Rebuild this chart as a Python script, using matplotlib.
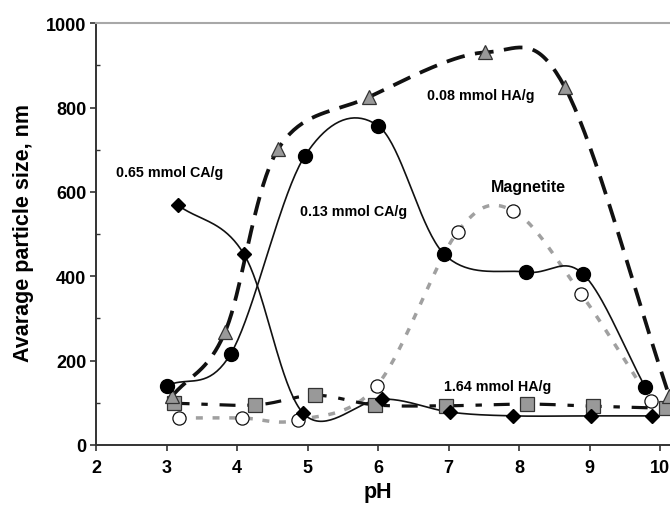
import numpy as np
import matplotlib
matplotlib.use("Agg")
import matplotlib.pyplot as plt
from matplotlib.ticker import MultipleLocator

# values (pH, average particle size in nm)
ph_ca013 = [3.0, 3.91, 4.96, 6.0, 6.94, 8.10, 8.91, 9.79]
size_ca013 = [140, 216, 685, 757, 452, 410, 405, 137]

ph_ha008 = [3.08, 3.83, 4.58, 5.87, 7.52, 8.65, 10.13]
size_ha008 = [116, 268, 701, 825, 931, 848, 116]

ph_ha164 = [3.10, 4.26, 5.11, 5.96, 6.97, 8.11, 9.05, 10.08]
size_ha164 = [99, 95, 118, 95, 93, 97, 92, 87]

ph_ca065 = [3.16, 4.10, 4.94, 6.06, 7.02, 7.92, 9.02, 9.89]
size_ca065 = [569, 452, 75, 109, 78, 69, 69, 69]

ph_mag = [3.18, 4.07, 4.86, 5.98, 7.13, 7.92, 8.88, 9.87]
size_mag = [64, 64, 59, 140, 506, 555, 358, 104]

x_ticks = [2, 3, 4, 5, 6, 7, 8, 9, 10]


def smooth(x, y, n=40):
    # catmull-rom through the points, like the smoothed lines in the original
    p = np.column_stack([x, y]).astype(float)
    p = np.vstack([2 * p[0] - p[1], p, 2 * p[-1] - p[-2]])
    t = np.linspace(0, 1, n)[:, None]
    out = []
    for i in range(1, len(p) - 2):
        p0, p1, p2, p3 = p[i - 1], p[i], p[i + 1], p[i + 2]
        seg = 0.5 * (2 * p1 + (-p0 + p2) * t
                     + (2 * p0 - 5 * p1 + 4 * p2 - p3) * t ** 2
                     + (-p0 + 3 * p1 - 3 * p2 + p3) * t ** 3)
        out.append(seg if i == 1 else seg[1:])
    out = np.vstack(out)
    return out[:, 0], out[:, 1]


plt.rcParams["font.family"] = ["Liberation Sans", "DejaVu Sans"]
plt.rcParams["font.weight"] = "bold"

fig = plt.figure(figsize=(6.7, 5.06), dpi=100)
ax = fig.add_axes([0.1433, 0.1186, 1 - 0.1433, 0.952 - 0.1186])

dark = "#111111"
gray = "#999999"

# lines
sx, sy = smooth(ph_mag, size_mag)
ax.plot(sx, sy, color="#a0a0a0", lw=2.5, dashes=(2.0, 2.8), zorder=2)
sx, sy = smooth(ph_ha164, size_ha164)
ax.plot(sx, sy, color=dark, lw=2.3, dashes=(5.0, 3.7, 2.0, 3.7), zorder=2)
sx, sy = smooth(ph_ha008, size_ha008)
ax.plot(sx, sy, color=dark, lw=2.7, dashes=(5.0, 2.8), zorder=2)
sx, sy = smooth(ph_ca013, size_ca013)
ax.plot(sx, sy, color=dark, lw=1.2, zorder=2)
sx, sy = smooth(ph_ca065, size_ca065)
ax.plot(sx, sy, color=dark, lw=1.2, zorder=2)

# markers
ax.plot(ph_mag, size_mag, ls="none", marker="o", ms=9.5, mfc="white",
        mec=dark, mew=0.9, zorder=3)
ax.plot(ph_ha164, size_ha164, ls="none", marker="s", ms=9.5, mfc=gray,
        mec="#333333", mew=0.9, zorder=3)
ax.plot(ph_ha008, size_ha008, ls="none", marker="^", ms=10.5, mfc=gray,
        mec="#333333", mew=0.9, zorder=3)
ax.plot(ph_ca013, size_ca013, ls="none", marker="o", ms=10, mfc="black",
        mec="black", zorder=4)
ax.plot(ph_ca065, size_ca065, ls="none", marker="D", ms=7.5, mfc="black",
        mec="black", zorder=4)

# labels on the curves
ax.text(3.04, 647, "0.65 mmol CA/g", fontsize=10.3, ha="center", va="center")
ax.text(5.65, 555, "0.13 mmol CA/g", fontsize=10.3, ha="center", va="center")
ax.text(7.46, 829, "0.08 mmol HA/g", fontsize=10.3, ha="center", va="center")
ax.text(8.13, 614, "Magnetite", fontsize=11.5, ha="center", va="center")
ax.text(7.69, 140, "1.64 mmol HA/g", fontsize=10.3, ha="center", va="center")

ax.set_xlim(2, 10.14)
ax.set_ylim(0, 1000)
ax.set_xticks(x_ticks)
ax.yaxis.set_major_locator(MultipleLocator(200))
ax.yaxis.set_minor_locator(MultipleLocator(100))
ax.tick_params(axis="both", which="major", direction="out", length=4,
               width=1.2, labelsize=13, color="#333333")
ax.tick_params(axis="x", which="major", pad=6)
ax.tick_params(axis="y", which="major", pad=3)
ax.tick_params(axis="y", which="minor", direction="in", length=3,
               width=1.0, color="#333333")

ax.spines["right"].set_visible(False)
ax.spines["top"].set_color("#a8a8a8")
ax.spines["top"].set_linewidth(1.5)
for s in ["left", "bottom"]:
    ax.spines[s].set_color("#333333")
    ax.spines[s].set_linewidth(1.4)

ax.set_xlabel("pH", fontsize=15.5, fontweight="bold")
ax.set_ylabel("Avarage particle size, nm", fontsize=15.5, fontweight="bold")
ax.xaxis.set_label_coords(0.491, -0.085)
ax.yaxis.set_label_coords(-0.108, 0.505)

fig.savefig("out.png", dpi=100)
